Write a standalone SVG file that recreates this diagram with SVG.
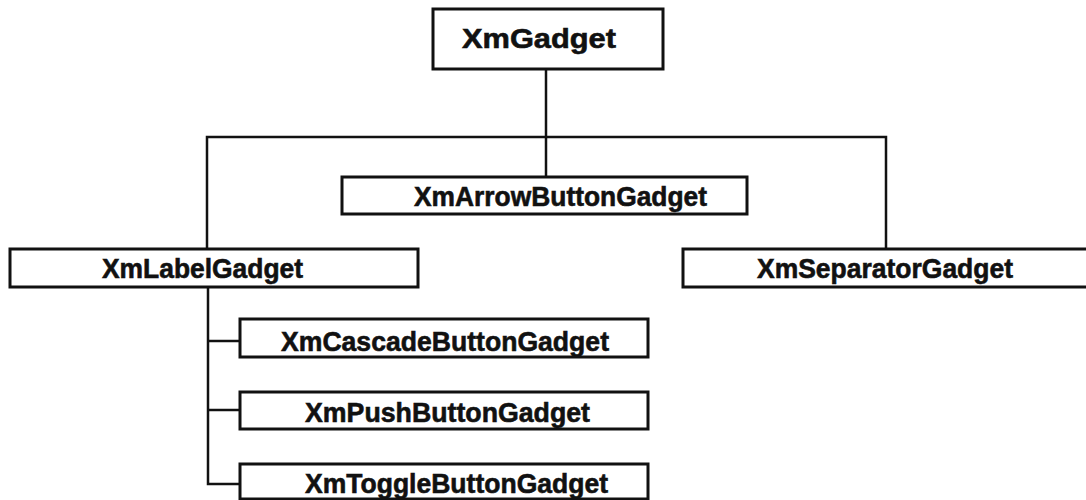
<svg xmlns="http://www.w3.org/2000/svg" width="1086" height="500" viewBox="0 0 1086 500">
<style>
.box{fill:#fff;stroke:#111;stroke-width:3}
.lbl{font-family:"Liberation Sans",Arial,Helvetica,sans-serif;font-weight:bold;font-size:28px;fill:#111;stroke:#111;stroke-width:0.6}
.con{fill:none;stroke:#111;stroke-width:2.5}
</style>
<rect width="1086" height="500" fill="#fff"/>
<g id="connectors">
<path class="con" d="M546,69 V177"/>
<path class="con" d="M207,249 V137 H886 V249"/>
<path class="con" d="M208,287 V484 H240"/>
<path class="con" d="M208,341 H240"/>
<path class="con" d="M208,410 H240"/>
</g>
<g id="XmGadget">
<rect class="box" x="433" y="9" width="230" height="60"/>
<text class="lbl" x="462" y="48" textLength="154" lengthAdjust="spacingAndGlyphs">XmGadget</text>
</g>
<g id="XmArrowButtonGadget">
<rect class="box" x="342" y="177" width="405" height="37"/>
<text class="lbl" x="414" y="206" textLength="293" lengthAdjust="spacingAndGlyphs">XmArrowButtonGadget</text>
</g>
<g id="XmLabelGadget">
<rect class="box" x="10" y="249" width="408" height="38"/>
<text class="lbl" x="102" y="278" textLength="201" lengthAdjust="spacingAndGlyphs">XmLabelGadget</text>
</g>
<g id="XmSeparatorGadget">
<rect class="box" x="683" y="249" width="420" height="38"/>
<text class="lbl" x="757" y="278" textLength="256" lengthAdjust="spacingAndGlyphs">XmSeparatorGadget</text>
</g>
<g id="XmCascadeButtonGadget">
<rect class="box" x="240" y="319" width="408" height="38"/>
<text class="lbl" x="281" y="351" textLength="328" lengthAdjust="spacingAndGlyphs">XmCascadeButtonGadget</text>
</g>
<g id="XmPushButtonGadget">
<rect class="box" x="240" y="392" width="408" height="37"/>
<text class="lbl" x="305" y="422" textLength="285" lengthAdjust="spacingAndGlyphs">XmPushButtonGadget</text>
</g>
<g id="XmToggleButtonGadget">
<rect class="box" x="240" y="464" width="408" height="35"/>
<text class="lbl" x="305" y="493" textLength="303" lengthAdjust="spacingAndGlyphs">XmToggleButtonGadget</text>
</g>
</svg>
